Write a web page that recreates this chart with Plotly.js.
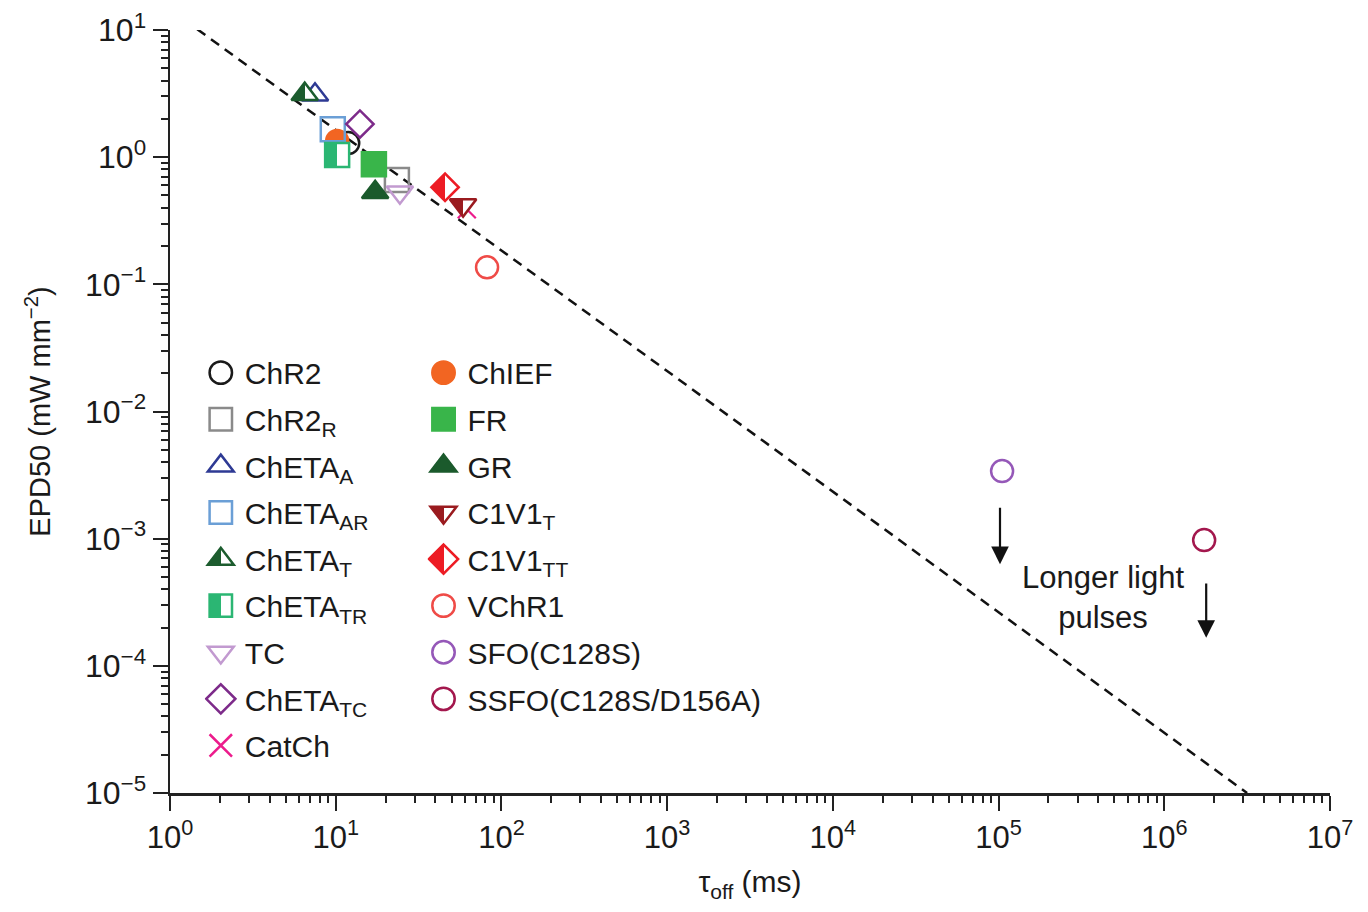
<!DOCTYPE html>
<html><head><meta charset="utf-8">
<script src="https://cdn.plot.ly/plotly-3.0.1.min.js"></script>
<style>html,body{margin:0;padding:0;background:#fff}#chart{width:1368px;height:912px}</style>
</head><body><div id="chart"></div>
<script>
// ---- data ----
const names = ['ChR2','ChR2<sub>R</sub>','ChETA<sub>A</sub>','ChETA<sub>AR</sub>','ChETA<sub>T</sub>','ChETA<sub>TR</sub>','TC','ChETA<sub>TC</sub>','CatCh',
               'ChIEF','FR','GR','C1V1<sub>T</sub>','C1V1<sub>TT</sub>','VChR1','SFO(C128S)','SSFO(C128S/D156A)'];
const tauOff = [11.9, 23.4, 7.5, 9.6, 6.5, 10.2, 24.4, 14.0, 61.8, 10.2, 17.0, 17.3, 58.7, 45.7, 81.9, 1.05e5, 1.74e6];
const epd50  = [1.29, 0.66, 3.1, 1.66, 3.13, 1.04, 0.53, 1.82, 0.39, 1.34, 0.88, 0.53, 0.42, 0.58, 0.136, 3.4e-3, 9.75e-4];
const fitTau = [1.46, 3.16e6];
const fitEpd = [10.15, 1e-5];
const xTickVals = [1,10,100,1e3,1e4,1e5,1e6,1e7];
const xTickText = ['10<sup>0</sup>','10<sup>1</sup>','10<sup>2</sup>','10<sup>3</sup>','10<sup>4</sup>','10<sup>5</sup>','10<sup>6</sup>','10<sup>7</sup>'];
const yTickVals = [1e-5,1e-4,1e-3,1e-2,1e-1,1,10];
const yTickText = ['10<sup>−5</sup>','10<sup>−4</sup>','10<sup>−3</sup>','10<sup>−2</sup>','10<sup>−1</sup>','10<sup>0</sup>','10<sup>1</sup>'];

// ---- styles ----
const colors = ['#1a1a1a','#8a8a8a','#2e3a94','#6b9fd6','#1c5c2e','#2bb673','#c29ad0','#7d2b8a','#ec1c8c',
                '#f26522','#39b54a','#1b5a2c','#9a1b1f','#ed1c24','#ef4b47','#9558b8','#a3174d'];
const symbols = ['circle-open','square-open','triangle-up-open','square-open','triangle-up','square','triangle-down-open','diamond-open','x-thin-open',
                 'circle','square','triangle-up','triangle-down','diamond','circle-open','circle-open','circle-open'];
const sizes = [22,24,23,24,23,24,23,21,18, 22,24,23,23,21,22,22,22];
const half = [false,false,false,false,true,true,false,false,false, false,false,false,true,true,false,false,false];
const drawOrder = [0,9,1,2,3,4,5,6,7,8,10,11,12,13,14,15,16];

const FONT = 'Liberation Sans, Arial, Helvetica, sans-serif';
const NARROW = 'Liberation Sans Narrow, Liberation Sans, Arial, sans-serif';

const traces = [{
  x: fitTau, y: fitEpd, mode: 'lines', type: 'scatter', showlegend: false, hoverinfo: 'skip',
  line: {color: '#111', width: 2.5, dash: '10px,7px'}
}];
drawOrder.forEach(i => {
  traces.push({
    x: [tauOff[i]], y: [epd50[i]], type: 'scatter', mode: 'markers', name: names[i],
    legend: i < 9 ? 'legend' : 'legend2', legendrank: i, legendgroup: 'g' + i,
    meta: {half: half[i], color: colors[i], idx: i},
    marker: {symbol: symbols[i], size: sizes[i], color: colors[i],
             line: {color: colors[i], width: symbols[i].indexOf('x') === 0 ? 2.2 : 2.5}}
  });
});

const legendCommon = {
  font: {family: FONT, size: 30, color: '#1a1a1a'}, bgcolor: 'rgba(0,0,0,0)', borderwidth: 0,
  yanchor: 'top', xanchor: 'left', tracegroupgap: 4.6, itemclick: false, itemdoubleclick: false
};

const axisCommon = {
  type: 'log', showgrid: false, zeroline: false, showline: true, linecolor: '#222', linewidth: 2.5,
  ticks: 'outside', ticklen: 15, tickwidth: 2, tickcolor: '#222', tickmode: 'array', mirror: false
};
function minorVals(lo, hi) {
  const v = [];
  for (let e = lo; e < hi; e++) for (let m = 2; m <= 9; m++) v.push(m * Math.pow(10, e));
  return v;
}

const layout = {
  width: 1368, height: 912, paper_bgcolor: '#fff', plot_bgcolor: '#fff',
  margin: {l: 170, r: 38, t: 30, b: 119},
  font: {family: FONT, color: '#1a1a1a'},
  xaxis: Object.assign({}, axisCommon, {
    range: [0, 7], tickvals: xTickVals, ticktext: xTickText,
    tickfont: {family: NARROW, size: 31, color: '#1a1a1a'},
    minor: {tickmode: 'array', tickvals: minorVals(0, 7), ticks: 'outside', ticklen: 7, tickwidth: 2, tickcolor: '#222'},
    title: {text: 'τ<sub>off</sub> (ms)', font: {family: NARROW, size: 30, color: '#1a1a1a'}, standoff: 18}
  }),
  yaxis: Object.assign({}, axisCommon, {
    range: [-5, 1], tickvals: yTickVals, ticktext: yTickText,
    tickfont: {family: FONT, size: 32, color: '#1a1a1a'},
    minor: {tickmode: 'array', tickvals: minorVals(-5, 1), ticks: 'outside', ticklen: 7, tickwidth: 2, tickcolor: '#222'},
    title: {text: 'EPD50 (mW mm<sup>−2</sup>)', font: {family: NARROW, size: 29, color: '#1a1a1a'}, standoff: 26}
  }),
  legend: Object.assign({}, legendCommon, {x: 0.03, y: 0.585}),
  legend2: Object.assign({}, legendCommon, {x: 0.222, y: 0.585}),
  annotations: [
    {x: Math.log10(1.02e5), y: Math.log10(6.3e-4), ax: Math.log10(1.02e5), ay: Math.log10(1.8e-3),
     xref: 'x', yref: 'y', axref: 'x', ayref: 'y', showarrow: true, arrowhead: 2, arrowsize: 1.6, arrowwidth: 2.2, arrowcolor: '#111', text: ''},
    {x: Math.log10(1.79e6), y: Math.log10(1.66e-4), ax: Math.log10(1.79e6), ay: Math.log10(4.57e-4),
     xref: 'x', yref: 'y', axref: 'x', ayref: 'y', showarrow: true, arrowhead: 2, arrowsize: 1.6, arrowwidth: 2.2, arrowcolor: '#111', text: ''},
    {x: 5.63, y: -3.46, xref: 'x', yref: 'y', showarrow: false, text: 'Longer light<br>pulses',
     font: {family: FONT, size: 31, color: '#1a1a1a'}, align: 'center'}
  ]
};

const gd = document.getElementById('chart');
Plotly.newPlot(gd, traces, layout, {staticPlot: true, displayModeBar: false}).then(() => {
  const svgNS = 'http://www.w3.org/2000/svg';
  const svg = gd.querySelector('svg.main-svg');
  let defs = svg.querySelector('defs');
  if (!defs) { defs = document.createElementNS(svgNS, 'defs'); svg.insertBefore(defs, svg.firstChild); }
  function gradFor(t) {
    const id = 'halfgrad' + t.meta.idx;
    if (!document.getElementById(id)) {
      const g = document.createElementNS(svgNS, 'linearGradient');
      g.setAttribute('id', id);
      g.setAttribute('x1', '0'); g.setAttribute('y1', '0'); g.setAttribute('x2', '1'); g.setAttribute('y2', '0');
      [[0, t.meta.color], [0.5, t.meta.color], [0.5, '#ffffff'], [1, '#ffffff']].forEach(s => {
        const st = document.createElementNS(svgNS, 'stop');
        st.setAttribute('offset', s[0]); st.setAttribute('stop-color', s[1]);
        g.appendChild(st);
      });
      defs.appendChild(g);
    }
    return 'url(#' + id + ')';
  }
  gd.querySelectorAll('.scatterlayer .trace').forEach(el => {
    const d = el.__data__; const t = d && d[0] && d[0].trace;
    if (t && t.meta && t.meta.half) el.querySelectorAll('path.point').forEach(p => { p.style.fill = gradFor(t); });
  });
  gd.querySelectorAll('.infolayer g.traces').forEach(el => {
    const d = el.__data__; const t = d && d[0] && d[0].trace;
    el.querySelectorAll('path.scatterpts').forEach(p => {
      const tr = p.getAttribute('transform') || '';
      p.setAttribute('transform', tr + ' translate(-4,0) scale(1.4)');
      p.style.strokeWidth = '1.8px';
      if (t && t.meta && t.meta.half) p.style.fill = gradFor(t);
    });
  });
});
</script>
</body></html>
